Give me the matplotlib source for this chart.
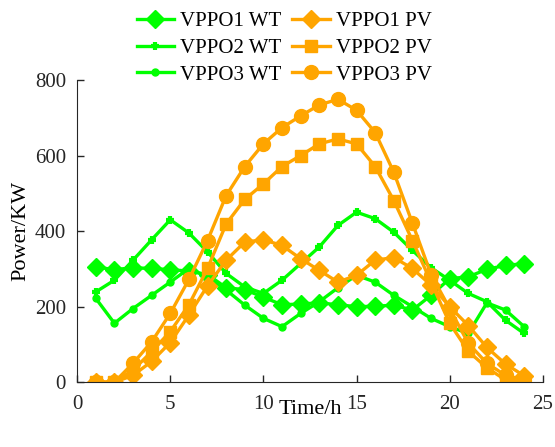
import numpy as np
import matplotlib
matplotlib.use('Agg')
import matplotlib.pyplot as plt

# =============================================================================
# DATA
# =============================================================================
hours = np.arange(1, 25)

wt1 = [305, 298, 303, 301, 298, 294, 285, 250, 245, 225, 205, 207,
       210, 205, 200, 201, 204, 191, 230, 274, 279, 299, 309, 314]
wt2 = [239, 270, 323, 377, 430, 395, 345, 288, 252, 235, 270, 314,
       358, 415, 450, 433, 397, 349, 303, 270, 235, 213, 164, 129]
wt3 = [222, 156, 195, 230, 265, 301, 279, 244, 204, 169, 147, 182,
       213, 250, 283, 265, 230, 200, 169, 147, 129, 210, 191, 147]

pv1 = [0, 0, 18, 55, 105, 178, 255, 323, 371, 377, 362, 327,
       296, 265, 283, 323, 330, 301, 257, 200, 150, 92, 48, 17]
pv2 = [0, 0, 32, 81, 134, 205, 301, 419, 484, 525, 571, 600,
       631, 644, 631, 571, 481, 375, 265, 156, 82, 38, 6, 2]
pv3 = [0, 0, 50, 107, 182, 272, 375, 494, 571, 631, 674, 705,
       734, 749, 720, 661, 556, 421, 285, 195, 103, 50, 18, 6]

green = '#00FF00'
orange = '#FFA500'

plt.rcParams['font.family'] = ['Liberation Serif', 'DejaVu Serif']

# =============================================================================
# FIGURE
# =============================================================================
fig = plt.figure(figsize=(5.55, 4.47), dpi=100)
ax = fig.add_axes([0.139, 0.145, 0.839, 0.676])

lw = 2.4
h1, = ax.plot(hours, wt1, color=green, lw=lw, marker='D', ms=9)
h2, = ax.plot(hours, wt2, color=green, lw=lw, marker='+', ms=6, mew=3)
h3, = ax.plot(hours, wt3, color=green, lw=lw, marker='o', ms=5)
h4, = ax.plot(hours, pv1, color=orange, lw=lw, marker='D', ms=9.5)
h5, = ax.plot(hours, pv2, color=orange, lw=lw, marker='s', ms=8.5)
h6, = ax.plot(hours, pv3, color=orange, lw=lw, marker='o', ms=10)

ax.set_xlim(0, 25)
ax.set_ylim(0, 800)
ax.set_xticks([0, 5, 10, 15, 20, 25])
ax.set_yticks([0, 200, 400, 600, 800])
ax.tick_params(direction='in', labelsize=15, length=5, width=1, colors='#262626')
ax.tick_params(axis='x', pad=9)
ax.tick_params(axis='y', pad=8)
ax.spines['top'].set_visible(False)
ax.spines['right'].set_visible(False)
for s in ['left', 'bottom']:
    ax.spines[s].set_color('#262626')

ax.set_xlabel('Time/h', fontsize=16, labelpad=-10)
ax.set_ylabel('Power/KW', fontsize=16, labelpad=3)

fig.legend([h1, h2, h3, h4, h5, h6],
           ['VPPO1 WT', 'VPPO2 WT', 'VPPO3 WT',
            'VPPO1 PV', 'VPPO2 PV', 'VPPO3 PV'],
           ncol=2, loc='upper center', bbox_to_anchor=(0.512, 1.016),
           frameon=False, fontsize=15, handlelength=1.8,
           handletextpad=0.3, columnspacing=0.5, labelspacing=0.34)

fig.savefig('out.png', dpi=100)
